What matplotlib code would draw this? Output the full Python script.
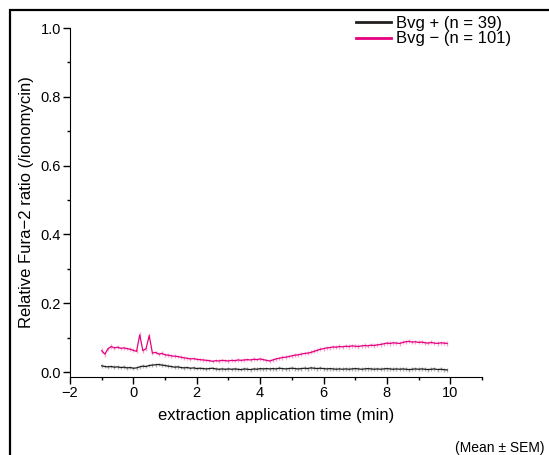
import numpy as np
import matplotlib
matplotlib.use("Agg")
import matplotlib.pyplot as plt
from matplotlib.patches import Rectangle
from matplotlib.lines import Line2D

plt.rcParams['font.family'] = ['Liberation Sans', 'DejaVu Sans']

# time grid (min), one sample every 0.1 min from -1.0 to 9.9
time = np.round(np.arange(-10, 100) * 0.1, 1)

# Bvg - (n = 101) mean / SEM
bvg_minus = [
    0.062, 0.052, 0.068, 0.074, 0.070, 0.072, 0.069, 0.070, 0.068, 0.066,
    0.063, 0.060, 0.108, 0.062, 0.068, 0.106, 0.055, 0.057, 0.052, 0.054,
    0.050, 0.049, 0.047, 0.046, 0.045, 0.043, 0.041, 0.040, 0.038, 0.039,
    0.037, 0.036, 0.035, 0.034, 0.033, 0.031, 0.033, 0.032, 0.034, 0.033,
    0.032, 0.034, 0.033, 0.035, 0.034, 0.035, 0.036, 0.035, 0.037, 0.036,
    0.038, 0.036, 0.034, 0.032, 0.035, 0.038, 0.040, 0.042, 0.043, 0.045,
    0.047, 0.049, 0.050, 0.052, 0.054, 0.055, 0.057, 0.060, 0.063, 0.066,
    0.068, 0.070, 0.071, 0.073, 0.072, 0.074, 0.073, 0.075, 0.074, 0.076,
    0.075, 0.074, 0.076, 0.077, 0.076, 0.078, 0.077, 0.079, 0.080, 0.082,
    0.084, 0.083, 0.085, 0.084, 0.083, 0.086, 0.088, 0.089, 0.087, 0.088,
    0.086, 0.087, 0.085, 0.084, 0.086, 0.084, 0.083, 0.085, 0.084, 0.083,
]
sem_minus = [
    0.007, 0.007, 0.006, 0.006, 0.006, 0.006, 0.005, 0.006, 0.005, 0.006,
    0.006, 0.006, 0.007, 0.006, 0.006, 0.007, 0.006, 0.005, 0.005, 0.006,
    0.005, 0.005, 0.005, 0.005, 0.005, 0.005, 0.005, 0.005, 0.005, 0.005,
    0.005, 0.005, 0.005, 0.005, 0.005, 0.005, 0.005, 0.005, 0.005, 0.005,
    0.005, 0.005, 0.005, 0.005, 0.005, 0.005, 0.005, 0.005, 0.006, 0.005,
    0.006, 0.005, 0.005, 0.005, 0.005, 0.005, 0.005, 0.006, 0.005, 0.005,
    0.005, 0.006, 0.005, 0.006, 0.005, 0.006, 0.006, 0.006, 0.006, 0.006,
    0.006, 0.006, 0.006, 0.006, 0.006, 0.006, 0.006, 0.006, 0.006, 0.006,
    0.006, 0.006, 0.006, 0.006, 0.006, 0.006, 0.006, 0.006, 0.006, 0.006,
    0.006, 0.006, 0.006, 0.006, 0.006, 0.006, 0.006, 0.006, 0.006, 0.006,
    0.006, 0.006, 0.006, 0.006, 0.006, 0.006, 0.006, 0.006, 0.006, 0.006,
]

# Bvg + (n = 39) mean / SEM
bvg_plus = [
    0.018, 0.016, 0.015, 0.016, 0.014, 0.015, 0.013, 0.014, 0.012, 0.013,
    0.011, 0.012, 0.015, 0.017, 0.016, 0.019, 0.020, 0.021, 0.022, 0.020,
    0.019, 0.017, 0.016, 0.014, 0.015, 0.013, 0.012, 0.013, 0.011, 0.012,
    0.010, 0.011, 0.010, 0.009, 0.010, 0.011, 0.009, 0.008, 0.009, 0.008,
    0.009, 0.008, 0.009, 0.008, 0.007, 0.009, 0.008, 0.007, 0.009, 0.008,
    0.010, 0.009, 0.010, 0.009, 0.010, 0.009, 0.011, 0.010, 0.009, 0.010,
    0.011, 0.010, 0.009, 0.010, 0.011, 0.010, 0.012, 0.011, 0.010, 0.011,
    0.010, 0.009, 0.010, 0.009, 0.008, 0.009, 0.008, 0.009, 0.008, 0.009,
    0.010, 0.009, 0.008, 0.009, 0.010, 0.009, 0.008, 0.009, 0.008, 0.009,
    0.010, 0.009, 0.008, 0.009, 0.008, 0.009, 0.008, 0.007, 0.008, 0.009,
    0.008, 0.009, 0.008, 0.007, 0.008, 0.009, 0.007, 0.008, 0.007, 0.006,
]
sem_plus = [
    0.005, 0.005, 0.005, 0.005, 0.005, 0.005, 0.005, 0.005, 0.005, 0.005,
    0.005, 0.005, 0.005, 0.005, 0.005, 0.005, 0.005, 0.005, 0.005, 0.005,
    0.005, 0.005, 0.005, 0.005, 0.005, 0.005, 0.005, 0.005, 0.005, 0.005,
    0.005, 0.005, 0.005, 0.005, 0.005, 0.005, 0.005, 0.005, 0.005, 0.005,
    0.005, 0.005, 0.005, 0.005, 0.005, 0.006, 0.006, 0.006, 0.006, 0.006,
    0.006, 0.006, 0.006, 0.006, 0.006, 0.006, 0.006, 0.006, 0.006, 0.006,
    0.006, 0.006, 0.006, 0.006, 0.006, 0.006, 0.006, 0.006, 0.006, 0.006,
    0.006, 0.006, 0.006, 0.006, 0.006, 0.006, 0.006, 0.006, 0.006, 0.006,
    0.006, 0.006, 0.006, 0.006, 0.006, 0.006, 0.006, 0.006, 0.006, 0.006,
    0.006, 0.006, 0.006, 0.006, 0.006, 0.006, 0.006, 0.006, 0.006, 0.006,
    0.006, 0.006, 0.006, 0.006, 0.006, 0.006, 0.006, 0.006, 0.006, 0.006,
]

labels = ['Bvg + (n = 39)', 'Bvg \u2212 (n = 101)']
colors = ['#231f20', '#e5007f']

fig = plt.figure(figsize=(5.49, 4.55), dpi=100)
ax = fig.add_axes([70 / 549, 1 - 377 / 455, 412 / 549, 349 / 455])

# outer frame round the figure
fig.patches.append(Rectangle((10 / 549, -0.05), 1.0, 1 - 10 / 455 + 0.05,
                             transform=fig.transFigure, fill=False,
                             edgecolor='black', linewidth=1.6, clip_on=False))

ax.errorbar(time, bvg_plus, yerr=sem_plus, fmt='none', ecolor='#b0b0b0',
            elinewidth=1.0, capsize=0)
ax.errorbar(time, bvg_minus, yerr=sem_minus, fmt='none', ecolor='#f5a6cf',
            elinewidth=1.0, capsize=0)
ax.plot(time, bvg_plus, color=colors[0], linewidth=0.9)
ax.plot(time, bvg_minus, color=colors[1], linewidth=0.9)

ax.set_xlim(-2, 11)
ax.set_ylim(-0.0145, 1.0)
ax.set_xticks(np.arange(-2, 11, 2))
ax.set_xticks(np.arange(-1, 12, 2), minor=True)
ax.set_yticks(np.arange(0, 1.01, 0.2))
ax.set_yticks(np.arange(0.1, 1.0, 0.2), minor=True)
ax.set_yticklabels(['0.0', '0.2', '0.4', '0.6', '0.8', '1.0'])
ax.set_xticklabels(['\u22122', '0', '2', '4', '6', '8', '10'])
ax.tick_params(which='major', length=5, width=1, labelsize=10.5,
               direction='out', pad=1.5)
ax.tick_params(which='minor', length=2.5, width=1, direction='out')
ax.spines['top'].set_visible(False)
ax.spines['right'].set_visible(False)

ax.set_xlabel('extraction application time (min)', fontsize=12, labelpad=6)
ax.set_ylabel('Relative Fura\u22122 ratio (/ionomycin)', fontsize=12,
              labelpad=5)

handles = [Line2D([], [], color=c, linewidth=2) for c in colors]
fig.legend(handles, labels, loc='upper left',
           bbox_to_anchor=(349 / 549, 1 - 9 / 455),
           frameon=False, fontsize=12, handlelength=2.1, handletextpad=0.3,
           labelspacing=0.05, borderaxespad=0)

fig.text(455 / 549, 1 - 448 / 455, '(Mean \u00b1 SEM)', fontsize=10,
         va='center', ha='left')

fig.savefig('out.png', dpi=100)
